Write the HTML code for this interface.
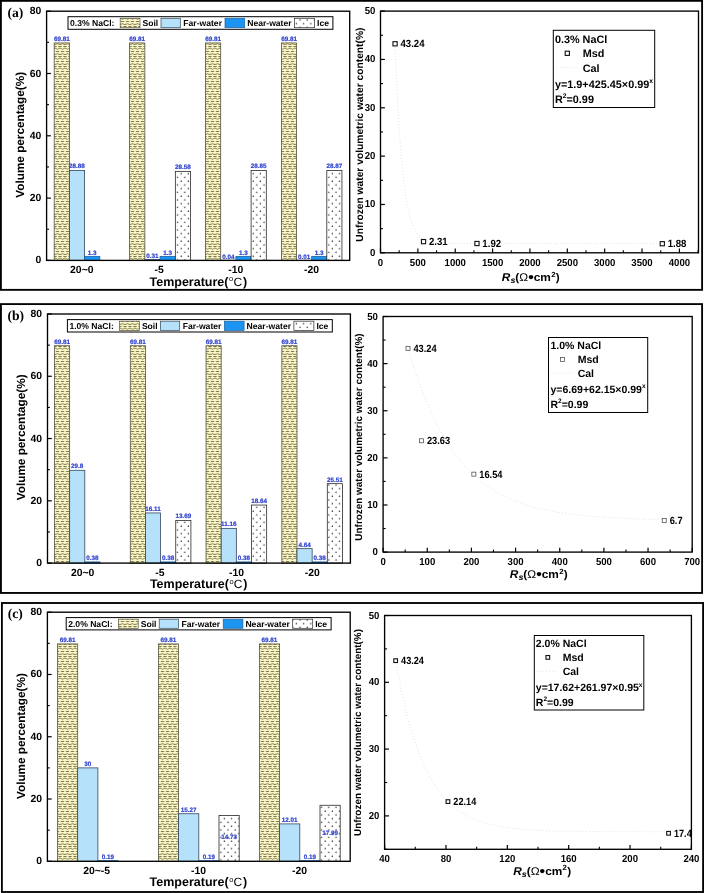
<!DOCTYPE html>
<html><head><meta charset="utf-8"><title>Figure</title>
<style>html,body{margin:0;padding:0;background:#fff}svg{display:block;will-change:transform}</style></head>
<body>
<svg width="704" height="893" viewBox="0 0 704 893" text-rendering="geometricPrecision">
<defs>
<pattern id="soil" width="5" height="10" patternUnits="userSpaceOnUse">
<rect width="5" height="10" fill="#faf6c8"/>
<g fill="none" stroke="#605c2e" stroke-width="0.78">
<path d="M0.8,1.5H4.2"/>
<path d="M-1.25,3.3Q0,5.1 1.25,4.2T3.75,4.2T6.25,4.2"/>
<path d="M-0.9,6.5H1.7M3.3,6.5H6"/>
<path d="M-1.25,9.1Q0,7.3 1.25,8.6T3.75,8.6T6.25,8.6" stroke="#66622f"/>
</g>
</pattern>
<pattern id="ice" width="7.2" height="7.5" patternUnits="userSpaceOnUse">
<rect width="7.2" height="7.5" fill="#fff"/>
<circle cx="1.2" cy="1.2" r="0.72" fill="#111"/>
<circle cx="4.8" cy="4.95" r="0.72" fill="#111"/>
</pattern>
</defs>
<rect width="704" height="893" fill="#fff"/>
<rect x="0.90" y="0.85" width="701.20" height="289.00" fill="none" stroke="#000" stroke-width="1.85" />
<rect x="0.95" y="304.10" width="701.15" height="288.85" fill="none" stroke="#000" stroke-width="1.85" />
<rect x="1.90" y="603.00" width="701.20" height="289.00" fill="none" stroke="#000" stroke-width="1.85" />
<rect x="54.20" y="42.94" width="15.20" height="217.46" fill="url(#soil)" stroke="#55523c" stroke-width="0.8" />
<rect x="69.40" y="170.44" width="15.20" height="89.96" fill="#b6e1fb" stroke="#34465a" stroke-width="0.8" />
<rect x="84.60" y="256.35" width="15.20" height="4.05" fill="#1c94f1" stroke="#1d5f9f" stroke-width="0.8" />
<rect x="129.60" y="42.94" width="15.25" height="217.46" fill="url(#soil)" stroke="#55523c" stroke-width="0.8" />
<rect x="144.85" y="259.43" width="15.25" height="0.97" fill="#b6e1fb" stroke="#34465a" stroke-width="0.8" />
<rect x="160.10" y="256.35" width="15.25" height="4.05" fill="#1c94f1" stroke="#1d5f9f" stroke-width="0.8" />
<rect x="175.35" y="171.37" width="15.25" height="89.03" fill="url(#ice)" stroke="#2a2a2a" stroke-width="0.8" />
<rect x="205.50" y="42.94" width="15.20" height="217.46" fill="url(#soil)" stroke="#55523c" stroke-width="0.8" />
<rect x="220.70" y="260.28" width="15.20" height="0.12" fill="#b6e1fb" stroke="#34465a" stroke-width="0.8" />
<rect x="235.90" y="256.35" width="15.20" height="4.05" fill="#1c94f1" stroke="#1d5f9f" stroke-width="0.8" />
<rect x="251.10" y="170.53" width="15.20" height="89.87" fill="url(#ice)" stroke="#2a2a2a" stroke-width="0.8" />
<rect x="281.45" y="42.94" width="15.12" height="217.46" fill="url(#soil)" stroke="#55523c" stroke-width="0.8" />
<rect x="296.57" y="260.37" width="15.12" height="0.03" fill="#b6e1fb" stroke="#34465a" stroke-width="0.8" />
<rect x="311.69" y="256.35" width="15.12" height="4.05" fill="#1c94f1" stroke="#1d5f9f" stroke-width="0.8" />
<rect x="326.81" y="170.47" width="15.12" height="89.93" fill="url(#ice)" stroke="#2a2a2a" stroke-width="0.8" />
<text x="61.80" y="40.84" font-size="6.3" text-anchor="middle" font-weight="bold" fill="#3346cf" font-family="'Liberation Sans', sans-serif" stroke="#3346cf" stroke-width="0.22">69.81</text>
<text x="77.00" y="168.34" font-size="6.3" text-anchor="middle" font-weight="bold" fill="#3346cf" font-family="'Liberation Sans', sans-serif" stroke="#3346cf" stroke-width="0.22">28.88</text>
<text x="92.20" y="254.85" font-size="6.3" text-anchor="middle" font-weight="bold" fill="#3346cf" font-family="'Liberation Sans', sans-serif" stroke="#3346cf" stroke-width="0.22">1.3</text>
<text x="137.22" y="40.84" font-size="6.3" text-anchor="middle" font-weight="bold" fill="#3346cf" font-family="'Liberation Sans', sans-serif" stroke="#3346cf" stroke-width="0.22">69.81</text>
<text x="152.47" y="257.93" font-size="6.3" text-anchor="middle" font-weight="bold" fill="#3346cf" font-family="'Liberation Sans', sans-serif" stroke="#3346cf" stroke-width="0.22">0.31</text>
<text x="167.72" y="254.85" font-size="6.3" text-anchor="middle" font-weight="bold" fill="#3346cf" font-family="'Liberation Sans', sans-serif" stroke="#3346cf" stroke-width="0.22">1.3</text>
<text x="182.97" y="169.27" font-size="6.3" text-anchor="middle" font-weight="bold" fill="#3346cf" font-family="'Liberation Sans', sans-serif" stroke="#3346cf" stroke-width="0.22">28.58</text>
<text x="213.10" y="40.84" font-size="6.3" text-anchor="middle" font-weight="bold" fill="#3346cf" font-family="'Liberation Sans', sans-serif" stroke="#3346cf" stroke-width="0.22">69.81</text>
<text x="228.30" y="258.78" font-size="6.3" text-anchor="middle" font-weight="bold" fill="#3346cf" font-family="'Liberation Sans', sans-serif" stroke="#3346cf" stroke-width="0.22">0.04</text>
<text x="243.50" y="254.85" font-size="6.3" text-anchor="middle" font-weight="bold" fill="#3346cf" font-family="'Liberation Sans', sans-serif" stroke="#3346cf" stroke-width="0.22">1.3</text>
<text x="258.70" y="168.43" font-size="6.3" text-anchor="middle" font-weight="bold" fill="#3346cf" font-family="'Liberation Sans', sans-serif" stroke="#3346cf" stroke-width="0.22">28.85</text>
<text x="289.01" y="40.84" font-size="6.3" text-anchor="middle" font-weight="bold" fill="#3346cf" font-family="'Liberation Sans', sans-serif" stroke="#3346cf" stroke-width="0.22">69.81</text>
<text x="304.13" y="258.87" font-size="6.3" text-anchor="middle" font-weight="bold" fill="#3346cf" font-family="'Liberation Sans', sans-serif" stroke="#3346cf" stroke-width="0.22">0.01</text>
<text x="319.25" y="254.85" font-size="6.3" text-anchor="middle" font-weight="bold" fill="#3346cf" font-family="'Liberation Sans', sans-serif" stroke="#3346cf" stroke-width="0.22">1.3</text>
<text x="334.37" y="168.37" font-size="6.3" text-anchor="middle" font-weight="bold" fill="#3346cf" font-family="'Liberation Sans', sans-serif" stroke="#3346cf" stroke-width="0.22">28.87</text>
<rect x="46.60" y="11.20" width="303.10" height="249.20" fill="none" stroke="#000" stroke-width="1.35" />
<line x1="46.60" y1="260.40" x2="50.90" y2="260.40" stroke="#000" stroke-width="1.2" />
<text x="41.20" y="263.40" font-size="10.4" text-anchor="end" font-weight="bold" fill="#000" font-family="'Liberation Sans', sans-serif" >0</text>
<line x1="46.60" y1="229.25" x2="49.00" y2="229.25" stroke="#000" stroke-width="1.1" />
<line x1="46.60" y1="198.10" x2="50.90" y2="198.10" stroke="#000" stroke-width="1.2" />
<text x="41.20" y="201.10" font-size="10.4" text-anchor="end" font-weight="bold" fill="#000" font-family="'Liberation Sans', sans-serif" >20</text>
<line x1="46.60" y1="166.95" x2="49.00" y2="166.95" stroke="#000" stroke-width="1.1" />
<line x1="46.60" y1="135.80" x2="50.90" y2="135.80" stroke="#000" stroke-width="1.2" />
<text x="41.20" y="138.80" font-size="10.4" text-anchor="end" font-weight="bold" fill="#000" font-family="'Liberation Sans', sans-serif" >40</text>
<line x1="46.60" y1="104.65" x2="49.00" y2="104.65" stroke="#000" stroke-width="1.1" />
<line x1="46.60" y1="73.50" x2="50.90" y2="73.50" stroke="#000" stroke-width="1.2" />
<text x="41.20" y="76.50" font-size="10.4" text-anchor="end" font-weight="bold" fill="#000" font-family="'Liberation Sans', sans-serif" >60</text>
<line x1="46.60" y1="42.35" x2="49.00" y2="42.35" stroke="#000" stroke-width="1.1" />
<line x1="46.60" y1="11.20" x2="50.90" y2="11.20" stroke="#000" stroke-width="1.2" />
<text x="41.20" y="14.20" font-size="10.4" text-anchor="end" font-weight="bold" fill="#000" font-family="'Liberation Sans', sans-serif" >80</text>
<text x="81.80" y="273.40" font-size="10.4" text-anchor="middle" font-weight="bold" fill="#000" font-family="'Liberation Sans', sans-serif" >20~0</text>
<text x="159.10" y="273.40" font-size="10.4" text-anchor="middle" font-weight="bold" fill="#000" font-family="'Liberation Sans', sans-serif" >-5</text>
<text x="235.70" y="273.40" font-size="10.4" text-anchor="middle" font-weight="bold" fill="#000" font-family="'Liberation Sans', sans-serif" >-10</text>
<text x="311.50" y="273.40" font-size="10.4" text-anchor="middle" font-weight="bold" fill="#000" font-family="'Liberation Sans', sans-serif" >-20</text>
<text x="149.50" y="285.50" font-size="12.5" font-weight="bold" font-family="'Liberation Sans', sans-serif">Temperature(<tspan font-weight="normal" font-size="7.5" dx="0.6" dy="-4.4">o</tspan><tspan font-weight="normal" dy="4.4" dx="0.2" font-size="12">C</tspan><tspan dx="0.8">)</tspan></text>
<text transform="translate(23.80,134.80) rotate(-90)" font-size="11.75" text-anchor="middle" font-weight="bold" font-family="'Liberation Sans', sans-serif">Volume percentage(%)</text>
<text x="7.40" y="17.40" font-size="13.6" text-anchor="start" font-weight="bold" fill="#000" font-family="'Liberation Serif', sans-serif" >(a)</text>
<rect x="68.00" y="16.70" width="264.90" height="12.60" fill="#fff" stroke="#000" stroke-width="1" />
<text x="70.00" y="26.30" font-size="8.6" text-anchor="start" font-weight="bold" fill="#000" font-family="'Liberation Sans', sans-serif" >0.3% NaCl:</text>
<rect x="120.20" y="18.30" width="19.80" height="9.40" fill="url(#soil)" stroke="#55523c" stroke-width="0.7" />
<text x="142.50" y="26.30" font-size="8.6" text-anchor="start" font-weight="bold" fill="#000" font-family="'Liberation Sans', sans-serif" >Soil</text>
<rect x="161.00" y="18.30" width="19.30" height="9.40" fill="#b6e1fb" stroke="#34465a" stroke-width="0.7" />
<text x="183.30" y="26.30" font-size="8.6" text-anchor="start" font-weight="bold" fill="#000" font-family="'Liberation Sans', sans-serif" >Far-water</text>
<rect x="225.00" y="18.30" width="19.70" height="9.40" fill="#1c94f1" stroke="#1d5f9f" stroke-width="0.7" />
<text x="247.20" y="26.30" font-size="8.6" text-anchor="start" font-weight="bold" fill="#000" font-family="'Liberation Sans', sans-serif" >Near-water</text>
<rect x="294.50" y="18.30" width="20.00" height="9.40" fill="url(#ice)" stroke="#2a2a2a" stroke-width="0.7" />
<text x="317.00" y="26.30" font-size="8.6" text-anchor="start" font-weight="bold" fill="#000" font-family="'Liberation Sans', sans-serif" >Ice</text>
<polyline points="395.1,43.8 395.1,44.1 395.1,45.4 395.2,47.8 395.4,51.2 395.5,55.8 395.8,61.5 396.0,68.2 396.4,75.9 396.8,84.3 397.2,93.5 397.7,103.2 398.2,113.2 398.9,123.5 399.5,133.9 400.3,144.1 401.0,154.2 401.9,163.9 402.8,173.1 403.8,181.8 404.8,189.9 405.9,197.3 407.1,204.1 408.4,210.1 409.7,215.5 411.0,220.3 412.5,224.4 414.0,227.9 415.5,230.9 417.2,233.4 418.9,235.5 420.7,237.2 422.5,238.6 424.5,239.8 426.5,240.7 428.5,241.4 430.7,242.0 432.9,242.4 435.2,242.7 437.5,243.0 440.0,243.1 442.5,243.3 445.0,243.4 447.7,243.4 450.4,243.5 453.2,243.5 456.1,243.6 459.1,243.6 462.1,243.6 465.2,243.6 468.4,243.6 471.7,243.6 475.0,243.6 478.4,243.6 481.9,243.6 485.5,243.6 489.2,243.6 492.9,243.6 496.7,243.6 500.6,243.6 504.6,243.6 508.6,243.6 512.8,243.6 517.0,243.6 521.3,243.6 525.7,243.6 530.1,243.6 534.7,243.6 539.3,243.6 544.0,243.6 548.8,243.6 553.7,243.6 558.6,243.6 563.7,243.6 568.8,243.6 574.0,243.6 579.3,243.6 584.7,243.6 590.1,243.6 595.7,243.6 601.3,243.6 607.0,243.6 612.8,243.6 618.7,243.6 624.7,243.6 630.7,243.6 636.9,243.6 643.1,243.6 649.4,243.6 655.8,243.6 662.3,243.6" fill="none" stroke="#e6d8d8" stroke-width="0.9" stroke-dasharray="0.9 2.2"/>
<rect x="380.50" y="11.10" width="318.00" height="241.70" fill="none" stroke="#000" stroke-width="1.35" />
<line x1="380.50" y1="252.80" x2="380.50" y2="248.40" stroke="#000" stroke-width="1.2" />
<text transform="translate(380.50,265.80) scale(0.95,1)" font-size="10.1" text-anchor="middle" font-weight="bold" fill="#000" font-family="'Liberation Sans', sans-serif">0</text>
<line x1="399.18" y1="252.80" x2="399.18" y2="250.30" stroke="#000" stroke-width="1.1" />
<line x1="417.86" y1="252.80" x2="417.86" y2="248.40" stroke="#000" stroke-width="1.2" />
<text transform="translate(417.86,265.80) scale(0.95,1)" font-size="10.1" text-anchor="middle" font-weight="bold" fill="#000" font-family="'Liberation Sans', sans-serif">500</text>
<line x1="436.54" y1="252.80" x2="436.54" y2="250.30" stroke="#000" stroke-width="1.1" />
<line x1="455.23" y1="252.80" x2="455.23" y2="248.40" stroke="#000" stroke-width="1.2" />
<text transform="translate(455.23,265.80) scale(0.95,1)" font-size="10.1" text-anchor="middle" font-weight="bold" fill="#000" font-family="'Liberation Sans', sans-serif">1000</text>
<line x1="473.91" y1="252.80" x2="473.91" y2="250.30" stroke="#000" stroke-width="1.1" />
<line x1="492.59" y1="252.80" x2="492.59" y2="248.40" stroke="#000" stroke-width="1.2" />
<text transform="translate(492.59,265.80) scale(0.95,1)" font-size="10.1" text-anchor="middle" font-weight="bold" fill="#000" font-family="'Liberation Sans', sans-serif">1500</text>
<line x1="511.27" y1="252.80" x2="511.27" y2="250.30" stroke="#000" stroke-width="1.1" />
<line x1="529.95" y1="252.80" x2="529.95" y2="248.40" stroke="#000" stroke-width="1.2" />
<text transform="translate(529.95,265.80) scale(0.95,1)" font-size="10.1" text-anchor="middle" font-weight="bold" fill="#000" font-family="'Liberation Sans', sans-serif">2000</text>
<line x1="548.63" y1="252.80" x2="548.63" y2="250.30" stroke="#000" stroke-width="1.1" />
<line x1="567.31" y1="252.80" x2="567.31" y2="248.40" stroke="#000" stroke-width="1.2" />
<text transform="translate(567.31,265.80) scale(0.95,1)" font-size="10.1" text-anchor="middle" font-weight="bold" fill="#000" font-family="'Liberation Sans', sans-serif">2500</text>
<line x1="585.99" y1="252.80" x2="585.99" y2="250.30" stroke="#000" stroke-width="1.1" />
<line x1="604.68" y1="252.80" x2="604.68" y2="248.40" stroke="#000" stroke-width="1.2" />
<text transform="translate(604.68,265.80) scale(0.95,1)" font-size="10.1" text-anchor="middle" font-weight="bold" fill="#000" font-family="'Liberation Sans', sans-serif">3000</text>
<line x1="623.36" y1="252.80" x2="623.36" y2="250.30" stroke="#000" stroke-width="1.1" />
<line x1="642.04" y1="252.80" x2="642.04" y2="248.40" stroke="#000" stroke-width="1.2" />
<text transform="translate(642.04,265.80) scale(0.95,1)" font-size="10.1" text-anchor="middle" font-weight="bold" fill="#000" font-family="'Liberation Sans', sans-serif">3500</text>
<line x1="660.72" y1="252.80" x2="660.72" y2="250.30" stroke="#000" stroke-width="1.1" />
<line x1="679.40" y1="252.80" x2="679.40" y2="248.40" stroke="#000" stroke-width="1.2" />
<text transform="translate(679.40,265.80) scale(0.95,1)" font-size="10.1" text-anchor="middle" font-weight="bold" fill="#000" font-family="'Liberation Sans', sans-serif">4000</text>
<line x1="698.08" y1="252.80" x2="698.08" y2="250.30" stroke="#000" stroke-width="1.1" />
<line x1="380.50" y1="252.80" x2="384.90" y2="252.80" stroke="#000" stroke-width="1.2" />
<text transform="translate(375.30,255.80) scale(0.95,1)" font-size="10.1" text-anchor="end" font-weight="bold" fill="#000" font-family="'Liberation Sans', sans-serif">0</text>
<line x1="380.50" y1="228.63" x2="383.00" y2="228.63" stroke="#000" stroke-width="1.1" />
<line x1="380.50" y1="204.46" x2="384.90" y2="204.46" stroke="#000" stroke-width="1.2" />
<text transform="translate(375.30,207.46) scale(0.95,1)" font-size="10.1" text-anchor="end" font-weight="bold" fill="#000" font-family="'Liberation Sans', sans-serif">10</text>
<line x1="380.50" y1="180.29" x2="383.00" y2="180.29" stroke="#000" stroke-width="1.1" />
<line x1="380.50" y1="156.12" x2="384.90" y2="156.12" stroke="#000" stroke-width="1.2" />
<text transform="translate(375.30,159.12) scale(0.95,1)" font-size="10.1" text-anchor="end" font-weight="bold" fill="#000" font-family="'Liberation Sans', sans-serif">20</text>
<line x1="380.50" y1="131.95" x2="383.00" y2="131.95" stroke="#000" stroke-width="1.1" />
<line x1="380.50" y1="107.78" x2="384.90" y2="107.78" stroke="#000" stroke-width="1.2" />
<text transform="translate(375.30,110.78) scale(0.95,1)" font-size="10.1" text-anchor="end" font-weight="bold" fill="#000" font-family="'Liberation Sans', sans-serif">30</text>
<line x1="380.50" y1="83.61" x2="383.00" y2="83.61" stroke="#000" stroke-width="1.1" />
<line x1="380.50" y1="59.44" x2="384.90" y2="59.44" stroke="#000" stroke-width="1.2" />
<text transform="translate(375.30,62.44) scale(0.95,1)" font-size="10.1" text-anchor="end" font-weight="bold" fill="#000" font-family="'Liberation Sans', sans-serif">40</text>
<line x1="380.50" y1="35.27" x2="383.00" y2="35.27" stroke="#000" stroke-width="1.1" />
<line x1="380.50" y1="11.10" x2="384.90" y2="11.10" stroke="#000" stroke-width="1.2" />
<text transform="translate(375.30,14.10) scale(0.95,1)" font-size="10.1" text-anchor="end" font-weight="bold" fill="#000" font-family="'Liberation Sans', sans-serif">50</text>
<rect x="392.97" y="41.68" width="4.20" height="4.20" fill="#fff" stroke="#111" stroke-width="1.1" />
<text transform="translate(400.47,47.28) scale(0.925,1)" font-size="10.4" text-anchor="start" font-weight="bold" fill="#000" font-family="'Liberation Sans', sans-serif">43.24</text>
<rect x="421.44" y="239.53" width="4.20" height="4.20" fill="#fff" stroke="#111" stroke-width="1.1" />
<text transform="translate(428.94,245.13) scale(0.925,1)" font-size="10.4" text-anchor="start" font-weight="bold" fill="#000" font-family="'Liberation Sans', sans-serif">2.31</text>
<rect x="474.87" y="241.42" width="4.20" height="4.20" fill="#fff" stroke="#111" stroke-width="1.1" />
<text transform="translate(482.37,247.02) scale(0.925,1)" font-size="10.4" text-anchor="start" font-weight="bold" fill="#000" font-family="'Liberation Sans', sans-serif">1.92</text>
<rect x="660.19" y="241.61" width="4.20" height="4.20" fill="#fff" stroke="#111" stroke-width="1.1" />
<text transform="translate(667.69,247.21) scale(0.925,1)" font-size="10.4" text-anchor="start" font-weight="bold" fill="#000" font-family="'Liberation Sans', sans-serif">1.88</text>
<text transform="translate(501.80,280.70) scale(1.06,1)" font-size="11.2" font-weight="bold" font-family="'Liberation Sans', sans-serif"><tspan font-style="italic">R</tspan><tspan font-style="italic" font-size="8.4" dy="2.4">s</tspan><tspan dy="-2.4">(</tspan><tspan font-weight="normal">Ω</tspan><tspan font-size="15" dy="1.1">•</tspan><tspan dy="-1.1">cm</tspan><tspan font-size="7.4" dy="-4.2" dx="0.3">2</tspan><tspan dy="4.2" dx="0.2">)</tspan></text>
<text transform="translate(362.80,134.60) rotate(-90)" font-size="10.25" text-anchor="middle" font-weight="bold" font-family="'Liberation Sans', sans-serif">Unfrozen water volumetric water content(%)</text>
<rect x="553.30" y="30.30" width="101.40" height="77.20" fill="#fff" stroke="#000" stroke-width="1" />
<text x="554.90" y="42.90" font-size="10.85" text-anchor="start" font-weight="bold" fill="#000" font-family="'Liberation Sans', sans-serif" >0.3% NaCl</text>
<rect x="565.20" y="51.20" width="4.20" height="4.20" fill="#fff" stroke="#111" stroke-width="1.1" />
<text x="582.70" y="57.40" font-size="10.85" text-anchor="start" font-weight="bold" fill="#000" font-family="'Liberation Sans', sans-serif" >Msd</text>
<line x1="557.00" y1="67.70" x2="576.80" y2="67.70" stroke="#e6d8d8" stroke-width="0.9" stroke-dasharray="0.9 2.2"/>
<text x="582.70" y="71.70" font-size="10.85" text-anchor="start" font-weight="bold" fill="#000" font-family="'Liberation Sans', sans-serif" >Cal</text>
<text x="554.90" y="87.60" font-size="10.85" font-weight="bold" font-family="'Liberation Sans', sans-serif">y=1.9+425.45×0.99<tspan font-size="6.73" dy="-4.2">x</tspan></text>
<text x="554.90" y="102.50" font-size="10.85" font-weight="bold" font-family="'Liberation Sans', sans-serif">R<tspan font-size="6.73" dy="-4.2">2</tspan><tspan dy="4.2">=0.99</tspan></text>
<rect x="54.50" y="345.73" width="15.15" height="217.37" fill="url(#soil)" stroke="#55523c" stroke-width="0.8" />
<rect x="69.65" y="470.31" width="15.15" height="92.79" fill="#b6e1fb" stroke="#34465a" stroke-width="0.8" />
<rect x="84.80" y="561.92" width="15.15" height="1.18" fill="#1c94f1" stroke="#1d5f9f" stroke-width="0.8" />
<rect x="130.30" y="345.73" width="15.15" height="217.37" fill="url(#soil)" stroke="#55523c" stroke-width="0.8" />
<rect x="145.45" y="512.94" width="15.15" height="50.16" fill="#b6e1fb" stroke="#34465a" stroke-width="0.8" />
<rect x="160.60" y="561.92" width="15.15" height="1.18" fill="#1c94f1" stroke="#1d5f9f" stroke-width="0.8" />
<rect x="175.75" y="520.47" width="15.15" height="42.63" fill="url(#ice)" stroke="#2a2a2a" stroke-width="0.8" />
<rect x="206.05" y="345.73" width="15.15" height="217.37" fill="url(#soil)" stroke="#55523c" stroke-width="0.8" />
<rect x="221.20" y="528.35" width="15.15" height="34.75" fill="#b6e1fb" stroke="#34465a" stroke-width="0.8" />
<rect x="236.35" y="561.92" width="15.15" height="1.18" fill="#1c94f1" stroke="#1d5f9f" stroke-width="0.8" />
<rect x="251.50" y="505.06" width="15.15" height="58.04" fill="url(#ice)" stroke="#2a2a2a" stroke-width="0.8" />
<rect x="281.85" y="345.73" width="15.15" height="217.37" fill="url(#soil)" stroke="#55523c" stroke-width="0.8" />
<rect x="297.00" y="548.65" width="15.15" height="14.45" fill="#b6e1fb" stroke="#34465a" stroke-width="0.8" />
<rect x="312.15" y="561.92" width="15.15" height="1.18" fill="#1c94f1" stroke="#1d5f9f" stroke-width="0.8" />
<rect x="327.30" y="483.67" width="15.15" height="79.43" fill="url(#ice)" stroke="#2a2a2a" stroke-width="0.8" />
<text x="62.08" y="343.63" font-size="6.3" text-anchor="middle" font-weight="bold" fill="#3346cf" font-family="'Liberation Sans', sans-serif" stroke="#3346cf" stroke-width="0.22">69.81</text>
<text x="77.23" y="468.21" font-size="6.3" text-anchor="middle" font-weight="bold" fill="#3346cf" font-family="'Liberation Sans', sans-serif" stroke="#3346cf" stroke-width="0.22">29.8</text>
<text x="92.38" y="560.42" font-size="6.3" text-anchor="middle" font-weight="bold" fill="#3346cf" font-family="'Liberation Sans', sans-serif" stroke="#3346cf" stroke-width="0.22">0.38</text>
<text x="137.88" y="343.63" font-size="6.3" text-anchor="middle" font-weight="bold" fill="#3346cf" font-family="'Liberation Sans', sans-serif" stroke="#3346cf" stroke-width="0.22">69.81</text>
<text x="153.03" y="510.84" font-size="6.3" text-anchor="middle" font-weight="bold" fill="#3346cf" font-family="'Liberation Sans', sans-serif" stroke="#3346cf" stroke-width="0.22">16.11</text>
<text x="168.18" y="560.42" font-size="6.3" text-anchor="middle" font-weight="bold" fill="#3346cf" font-family="'Liberation Sans', sans-serif" stroke="#3346cf" stroke-width="0.22">0.38</text>
<text x="183.32" y="518.37" font-size="6.3" text-anchor="middle" font-weight="bold" fill="#3346cf" font-family="'Liberation Sans', sans-serif" stroke="#3346cf" stroke-width="0.22">13.69</text>
<text x="213.62" y="343.63" font-size="6.3" text-anchor="middle" font-weight="bold" fill="#3346cf" font-family="'Liberation Sans', sans-serif" stroke="#3346cf" stroke-width="0.22">69.81</text>
<text x="228.78" y="526.25" font-size="6.3" text-anchor="middle" font-weight="bold" fill="#3346cf" font-family="'Liberation Sans', sans-serif" stroke="#3346cf" stroke-width="0.22">11.16</text>
<text x="243.93" y="560.42" font-size="6.3" text-anchor="middle" font-weight="bold" fill="#3346cf" font-family="'Liberation Sans', sans-serif" stroke="#3346cf" stroke-width="0.22">0.38</text>
<text x="259.07" y="502.96" font-size="6.3" text-anchor="middle" font-weight="bold" fill="#3346cf" font-family="'Liberation Sans', sans-serif" stroke="#3346cf" stroke-width="0.22">18.64</text>
<text x="289.43" y="343.63" font-size="6.3" text-anchor="middle" font-weight="bold" fill="#3346cf" font-family="'Liberation Sans', sans-serif" stroke="#3346cf" stroke-width="0.22">69.81</text>
<text x="304.57" y="546.55" font-size="6.3" text-anchor="middle" font-weight="bold" fill="#3346cf" font-family="'Liberation Sans', sans-serif" stroke="#3346cf" stroke-width="0.22">4.64</text>
<text x="319.73" y="560.42" font-size="6.3" text-anchor="middle" font-weight="bold" fill="#3346cf" font-family="'Liberation Sans', sans-serif" stroke="#3346cf" stroke-width="0.22">0.38</text>
<text x="334.88" y="481.57" font-size="6.3" text-anchor="middle" font-weight="bold" fill="#3346cf" font-family="'Liberation Sans', sans-serif" stroke="#3346cf" stroke-width="0.22">25.51</text>
<rect x="47.50" y="314.00" width="302.90" height="249.10" fill="none" stroke="#000" stroke-width="1.35" />
<line x1="47.50" y1="563.10" x2="51.80" y2="563.10" stroke="#000" stroke-width="1.2" />
<text x="42.10" y="566.10" font-size="10.4" text-anchor="end" font-weight="bold" fill="#000" font-family="'Liberation Sans', sans-serif" >0</text>
<line x1="47.50" y1="531.96" x2="49.90" y2="531.96" stroke="#000" stroke-width="1.1" />
<line x1="47.50" y1="500.83" x2="51.80" y2="500.83" stroke="#000" stroke-width="1.2" />
<text x="42.10" y="503.83" font-size="10.4" text-anchor="end" font-weight="bold" fill="#000" font-family="'Liberation Sans', sans-serif" >20</text>
<line x1="47.50" y1="469.69" x2="49.90" y2="469.69" stroke="#000" stroke-width="1.1" />
<line x1="47.50" y1="438.55" x2="51.80" y2="438.55" stroke="#000" stroke-width="1.2" />
<text x="42.10" y="441.55" font-size="10.4" text-anchor="end" font-weight="bold" fill="#000" font-family="'Liberation Sans', sans-serif" >40</text>
<line x1="47.50" y1="407.41" x2="49.90" y2="407.41" stroke="#000" stroke-width="1.1" />
<line x1="47.50" y1="376.27" x2="51.80" y2="376.27" stroke="#000" stroke-width="1.2" />
<text x="42.10" y="379.27" font-size="10.4" text-anchor="end" font-weight="bold" fill="#000" font-family="'Liberation Sans', sans-serif" >60</text>
<line x1="47.50" y1="345.14" x2="49.90" y2="345.14" stroke="#000" stroke-width="1.1" />
<line x1="47.50" y1="314.00" x2="51.80" y2="314.00" stroke="#000" stroke-width="1.2" />
<text x="42.10" y="317.00" font-size="10.4" text-anchor="end" font-weight="bold" fill="#000" font-family="'Liberation Sans', sans-serif" >80</text>
<text x="82.70" y="576.10" font-size="10.4" text-anchor="middle" font-weight="bold" fill="#000" font-family="'Liberation Sans', sans-serif" >20~0</text>
<text x="159.90" y="576.10" font-size="10.4" text-anchor="middle" font-weight="bold" fill="#000" font-family="'Liberation Sans', sans-serif" >-5</text>
<text x="236.50" y="576.10" font-size="10.4" text-anchor="middle" font-weight="bold" fill="#000" font-family="'Liberation Sans', sans-serif" >-10</text>
<text x="312.30" y="576.10" font-size="10.4" text-anchor="middle" font-weight="bold" fill="#000" font-family="'Liberation Sans', sans-serif" >-20</text>
<text x="149.90" y="588.20" font-size="12.5" font-weight="bold" font-family="'Liberation Sans', sans-serif">Temperature(<tspan font-weight="normal" font-size="7.5" dx="0.6" dy="-4.4">o</tspan><tspan font-weight="normal" dy="4.4" dx="0.2" font-size="12">C</tspan><tspan dx="0.8">)</tspan></text>
<text transform="translate(24.50,437.30) rotate(-90)" font-size="11.75" text-anchor="middle" font-weight="bold" font-family="'Liberation Sans', sans-serif">Volume percentage(%)</text>
<text x="7.40" y="319.90" font-size="13.6" text-anchor="start" font-weight="bold" fill="#000" font-family="'Liberation Serif', sans-serif" >(b)</text>
<rect x="67.40" y="319.60" width="264.90" height="12.40" fill="#fff" stroke="#000" stroke-width="1" />
<text x="69.40" y="328.90" font-size="8.6" text-anchor="start" font-weight="bold" fill="#000" font-family="'Liberation Sans', sans-serif" >1.0% NaCl:</text>
<rect x="119.60" y="321.20" width="19.80" height="9.20" fill="url(#soil)" stroke="#55523c" stroke-width="0.7" />
<text x="141.90" y="328.90" font-size="8.6" text-anchor="start" font-weight="bold" fill="#000" font-family="'Liberation Sans', sans-serif" >Soil</text>
<rect x="160.40" y="321.20" width="19.30" height="9.20" fill="#b6e1fb" stroke="#34465a" stroke-width="0.7" />
<text x="182.70" y="328.90" font-size="8.6" text-anchor="start" font-weight="bold" fill="#000" font-family="'Liberation Sans', sans-serif" >Far-water</text>
<rect x="224.40" y="321.20" width="19.70" height="9.20" fill="#1c94f1" stroke="#1d5f9f" stroke-width="0.7" />
<text x="246.60" y="328.90" font-size="8.6" text-anchor="start" font-weight="bold" fill="#000" font-family="'Liberation Sans', sans-serif" >Near-water</text>
<rect x="293.90" y="321.20" width="20.00" height="9.20" fill="url(#ice)" stroke="#2a2a2a" stroke-width="0.7" />
<text x="316.40" y="328.90" font-size="8.6" text-anchor="start" font-weight="bold" fill="#000" font-family="'Liberation Sans', sans-serif" >Ice</text>
<polyline points="408.0,348.5 408.0,348.5 408.1,348.7 408.1,349.0 408.3,349.4 408.4,350.0 408.7,350.8 408.9,351.7 409.3,352.8 409.6,354.0 410.0,355.4 410.5,357.0 411.0,358.7 411.6,360.7 412.3,362.7 413.0,364.9 413.7,367.3 414.6,369.8 415.4,372.5 416.4,375.2 417.4,378.2 418.4,381.2 419.6,384.3 420.7,387.5 422.0,390.8 423.3,394.2 424.7,397.7 426.1,401.2 427.6,404.8 429.2,408.5 430.9,412.1 432.6,415.8 434.3,419.5 436.2,423.2 438.1,426.9 440.1,430.6 442.1,434.2 444.3,437.8 446.4,441.4 448.7,445.0 451.0,448.4 453.4,451.8 455.9,455.2 458.5,458.5 461.1,461.7 463.8,464.8 466.5,467.8 469.4,470.8 472.3,473.6 475.3,476.3 478.3,479.0 481.5,481.5 484.7,484.0 487.9,486.3 491.3,488.6 494.7,490.7 498.2,492.8 501.8,494.7 505.5,496.5 509.2,498.3 513.0,499.9 516.9,501.5 520.9,503.0 524.9,504.4 529.0,505.7 533.2,506.9 537.5,508.0 541.9,509.1 546.3,510.0 550.8,511.0 555.4,511.8 560.1,512.6 564.8,513.3 569.7,514.0 574.6,514.6 579.6,515.2 584.7,515.7 589.8,516.2 595.0,516.6 600.4,517.0 605.8,517.4 611.2,517.7 616.8,518.0 622.4,518.3 628.2,518.6 634.0,518.8 639.9,519.0 645.8,519.2 651.9,519.3 658.0,519.5 664.2,519.6" fill="none" stroke="#e6d8d8" stroke-width="0.9" stroke-dasharray="0.9 2.2"/>
<rect x="383.10" y="316.50" width="309.10" height="235.60" fill="none" stroke="#000" stroke-width="1.35" />
<line x1="383.10" y1="552.10" x2="383.10" y2="547.70" stroke="#000" stroke-width="1.2" />
<text transform="translate(383.10,565.10) scale(0.95,1)" font-size="10.1" text-anchor="middle" font-weight="bold" fill="#000" font-family="'Liberation Sans', sans-serif">0</text>
<line x1="405.18" y1="552.10" x2="405.18" y2="549.60" stroke="#000" stroke-width="1.1" />
<line x1="427.26" y1="552.10" x2="427.26" y2="547.70" stroke="#000" stroke-width="1.2" />
<text transform="translate(427.26,565.10) scale(0.95,1)" font-size="10.1" text-anchor="middle" font-weight="bold" fill="#000" font-family="'Liberation Sans', sans-serif">100</text>
<line x1="449.34" y1="552.10" x2="449.34" y2="549.60" stroke="#000" stroke-width="1.1" />
<line x1="471.41" y1="552.10" x2="471.41" y2="547.70" stroke="#000" stroke-width="1.2" />
<text transform="translate(471.41,565.10) scale(0.95,1)" font-size="10.1" text-anchor="middle" font-weight="bold" fill="#000" font-family="'Liberation Sans', sans-serif">200</text>
<line x1="493.49" y1="552.10" x2="493.49" y2="549.60" stroke="#000" stroke-width="1.1" />
<line x1="515.57" y1="552.10" x2="515.57" y2="547.70" stroke="#000" stroke-width="1.2" />
<text transform="translate(515.57,565.10) scale(0.95,1)" font-size="10.1" text-anchor="middle" font-weight="bold" fill="#000" font-family="'Liberation Sans', sans-serif">300</text>
<line x1="537.65" y1="552.10" x2="537.65" y2="549.60" stroke="#000" stroke-width="1.1" />
<line x1="559.73" y1="552.10" x2="559.73" y2="547.70" stroke="#000" stroke-width="1.2" />
<text transform="translate(559.73,565.10) scale(0.95,1)" font-size="10.1" text-anchor="middle" font-weight="bold" fill="#000" font-family="'Liberation Sans', sans-serif">400</text>
<line x1="581.81" y1="552.10" x2="581.81" y2="549.60" stroke="#000" stroke-width="1.1" />
<line x1="603.89" y1="552.10" x2="603.89" y2="547.70" stroke="#000" stroke-width="1.2" />
<text transform="translate(603.89,565.10) scale(0.95,1)" font-size="10.1" text-anchor="middle" font-weight="bold" fill="#000" font-family="'Liberation Sans', sans-serif">500</text>
<line x1="625.96" y1="552.10" x2="625.96" y2="549.60" stroke="#000" stroke-width="1.1" />
<line x1="648.04" y1="552.10" x2="648.04" y2="547.70" stroke="#000" stroke-width="1.2" />
<text transform="translate(648.04,565.10) scale(0.95,1)" font-size="10.1" text-anchor="middle" font-weight="bold" fill="#000" font-family="'Liberation Sans', sans-serif">600</text>
<line x1="670.12" y1="552.10" x2="670.12" y2="549.60" stroke="#000" stroke-width="1.1" />
<line x1="692.20" y1="552.10" x2="692.20" y2="547.70" stroke="#000" stroke-width="1.2" />
<text transform="translate(692.20,565.10) scale(0.95,1)" font-size="10.1" text-anchor="middle" font-weight="bold" fill="#000" font-family="'Liberation Sans', sans-serif">700</text>
<line x1="383.10" y1="552.10" x2="387.50" y2="552.10" stroke="#000" stroke-width="1.2" />
<text transform="translate(377.90,555.10) scale(0.95,1)" font-size="10.1" text-anchor="end" font-weight="bold" fill="#000" font-family="'Liberation Sans', sans-serif">0</text>
<line x1="383.10" y1="528.54" x2="385.60" y2="528.54" stroke="#000" stroke-width="1.1" />
<line x1="383.10" y1="504.98" x2="387.50" y2="504.98" stroke="#000" stroke-width="1.2" />
<text transform="translate(377.90,507.98) scale(0.95,1)" font-size="10.1" text-anchor="end" font-weight="bold" fill="#000" font-family="'Liberation Sans', sans-serif">10</text>
<line x1="383.10" y1="481.42" x2="385.60" y2="481.42" stroke="#000" stroke-width="1.1" />
<line x1="383.10" y1="457.86" x2="387.50" y2="457.86" stroke="#000" stroke-width="1.2" />
<text transform="translate(377.90,460.86) scale(0.95,1)" font-size="10.1" text-anchor="end" font-weight="bold" fill="#000" font-family="'Liberation Sans', sans-serif">20</text>
<line x1="383.10" y1="434.30" x2="385.60" y2="434.30" stroke="#000" stroke-width="1.1" />
<line x1="383.10" y1="410.74" x2="387.50" y2="410.74" stroke="#000" stroke-width="1.2" />
<text transform="translate(377.90,413.74) scale(0.95,1)" font-size="10.1" text-anchor="end" font-weight="bold" fill="#000" font-family="'Liberation Sans', sans-serif">30</text>
<line x1="383.10" y1="387.18" x2="385.60" y2="387.18" stroke="#000" stroke-width="1.1" />
<line x1="383.10" y1="363.62" x2="387.50" y2="363.62" stroke="#000" stroke-width="1.2" />
<text transform="translate(377.90,366.62) scale(0.95,1)" font-size="10.1" text-anchor="end" font-weight="bold" fill="#000" font-family="'Liberation Sans', sans-serif">40</text>
<line x1="383.10" y1="340.06" x2="385.60" y2="340.06" stroke="#000" stroke-width="1.1" />
<line x1="383.10" y1="316.50" x2="387.50" y2="316.50" stroke="#000" stroke-width="1.2" />
<text transform="translate(377.90,319.50) scale(0.95,1)" font-size="10.1" text-anchor="end" font-weight="bold" fill="#000" font-family="'Liberation Sans', sans-serif">50</text>
<rect x="406.00" y="346.35" width="4.00" height="4.00" fill="#fff" stroke="#555" stroke-width="0.8" />
<text transform="translate(413.40,351.85) scale(0.895,1)" font-size="10.4" text-anchor="start" font-weight="bold" fill="#000" font-family="'Liberation Sans', sans-serif">43.24</text>
<rect x="419.52" y="438.76" width="4.00" height="4.00" fill="#fff" stroke="#555" stroke-width="0.8" />
<text transform="translate(426.92,444.26) scale(0.895,1)" font-size="10.4" text-anchor="start" font-weight="bold" fill="#000" font-family="'Liberation Sans', sans-serif">23.63</text>
<rect x="471.84" y="472.16" width="4.00" height="4.00" fill="#fff" stroke="#555" stroke-width="0.8" />
<text transform="translate(479.24,477.66) scale(0.895,1)" font-size="10.4" text-anchor="start" font-weight="bold" fill="#000" font-family="'Liberation Sans', sans-serif">16.54</text>
<rect x="662.25" y="518.53" width="4.00" height="4.00" fill="#fff" stroke="#555" stroke-width="0.8" />
<text transform="translate(669.65,524.03) scale(0.895,1)" font-size="10.4" text-anchor="start" font-weight="bold" fill="#000" font-family="'Liberation Sans', sans-serif">6.7</text>
<text transform="translate(509.80,577.70) scale(1.06,1)" font-size="11.2" font-weight="bold" font-family="'Liberation Sans', sans-serif"><tspan font-style="italic">R</tspan><tspan font-style="italic" font-size="8.4" dy="2.4">s</tspan><tspan dy="-2.4">(</tspan><tspan font-weight="normal">Ω</tspan><tspan font-size="15" dy="1.1">•</tspan><tspan dy="-1.1">cm</tspan><tspan font-size="7.4" dy="-4.2" dx="0.3">2</tspan><tspan dy="4.2" dx="0.2">)</tspan></text>
<text transform="translate(362.30,437.00) rotate(-90)" font-size="9.94" text-anchor="middle" font-weight="bold" font-family="'Liberation Sans', sans-serif">Unfrozen water volumetric water content(%)</text>
<rect x="548.50" y="337.50" width="99.20" height="75.00" fill="#fff" stroke="#000" stroke-width="1" />
<text x="550.50" y="349.30" font-size="10.5" text-anchor="start" font-weight="bold" fill="#000" font-family="'Liberation Sans', sans-serif" >1.0% NaCl</text>
<rect x="560.40" y="357.40" width="4.00" height="4.00" fill="#fff" stroke="#555" stroke-width="0.8" />
<text x="577.70" y="363.20" font-size="10.5" text-anchor="start" font-weight="bold" fill="#000" font-family="'Liberation Sans', sans-serif" >Msd</text>
<line x1="550.50" y1="373.10" x2="572.70" y2="373.10" stroke="#e6d8d8" stroke-width="0.9" stroke-dasharray="0.9 2.2"/>
<text x="577.70" y="377.10" font-size="10.5" text-anchor="start" font-weight="bold" fill="#000" font-family="'Liberation Sans', sans-serif" >Cal</text>
<text x="550.50" y="392.60" font-size="10.5" font-weight="bold" font-family="'Liberation Sans', sans-serif">y=6.69+62.15×0.99<tspan font-size="6.51" dy="-4.2">x</tspan></text>
<text x="550.50" y="407.50" font-size="10.5" font-weight="bold" font-family="'Liberation Sans', sans-serif">R<tspan font-size="6.51" dy="-4.2">2</tspan><tspan dy="4.2">=0.99</tspan></text>
<rect x="57.50" y="643.93" width="20.20" height="217.37" fill="url(#soil)" stroke="#55523c" stroke-width="0.8" />
<rect x="77.70" y="767.89" width="20.20" height="93.41" fill="#b6e1fb" stroke="#34465a" stroke-width="0.8" />
<rect x="97.90" y="860.71" width="20.20" height="0.59" fill="#1c94f1" stroke="#1d5f9f" stroke-width="0.8" />
<rect x="158.40" y="643.93" width="20.20" height="217.37" fill="url(#soil)" stroke="#55523c" stroke-width="0.8" />
<rect x="178.60" y="813.75" width="20.20" height="47.55" fill="#b6e1fb" stroke="#34465a" stroke-width="0.8" />
<rect x="198.80" y="860.71" width="20.20" height="0.59" fill="#1c94f1" stroke="#1d5f9f" stroke-width="0.8" />
<rect x="219.00" y="815.43" width="20.20" height="45.87" fill="url(#ice)" stroke="#2a2a2a" stroke-width="0.8" />
<rect x="259.40" y="643.93" width="20.20" height="217.37" fill="url(#soil)" stroke="#55523c" stroke-width="0.8" />
<rect x="279.60" y="823.90" width="20.20" height="37.40" fill="#b6e1fb" stroke="#34465a" stroke-width="0.8" />
<rect x="299.80" y="860.71" width="20.20" height="0.59" fill="#1c94f1" stroke="#1d5f9f" stroke-width="0.8" />
<rect x="320.00" y="805.28" width="20.20" height="56.02" fill="url(#ice)" stroke="#2a2a2a" stroke-width="0.8" />
<text x="67.60" y="641.83" font-size="6.3" text-anchor="middle" font-weight="bold" fill="#3346cf" font-family="'Liberation Sans', sans-serif" stroke="#3346cf" stroke-width="0.22">69.81</text>
<text x="87.80" y="765.79" font-size="6.3" text-anchor="middle" font-weight="bold" fill="#3346cf" font-family="'Liberation Sans', sans-serif" stroke="#3346cf" stroke-width="0.22">30</text>
<text x="108.00" y="859.21" font-size="6.3" text-anchor="middle" font-weight="bold" fill="#3346cf" font-family="'Liberation Sans', sans-serif" stroke="#3346cf" stroke-width="0.22">0.19</text>
<text x="168.50" y="641.83" font-size="6.3" text-anchor="middle" font-weight="bold" fill="#3346cf" font-family="'Liberation Sans', sans-serif" stroke="#3346cf" stroke-width="0.22">69.81</text>
<text x="188.70" y="811.65" font-size="6.3" text-anchor="middle" font-weight="bold" fill="#3346cf" font-family="'Liberation Sans', sans-serif" stroke="#3346cf" stroke-width="0.22">15.27</text>
<text x="208.90" y="859.21" font-size="6.3" text-anchor="middle" font-weight="bold" fill="#3346cf" font-family="'Liberation Sans', sans-serif" stroke="#3346cf" stroke-width="0.22">0.19</text>
<text x="229.10" y="839.20" font-size="6.3" text-anchor="middle" font-weight="bold" fill="#3346cf" font-family="'Liberation Sans', sans-serif" stroke="#3346cf" stroke-width="0.22">14.73</text>
<text x="269.50" y="641.83" font-size="6.3" text-anchor="middle" font-weight="bold" fill="#3346cf" font-family="'Liberation Sans', sans-serif" stroke="#3346cf" stroke-width="0.22">69.81</text>
<text x="289.70" y="821.80" font-size="6.3" text-anchor="middle" font-weight="bold" fill="#3346cf" font-family="'Liberation Sans', sans-serif" stroke="#3346cf" stroke-width="0.22">12.01</text>
<text x="309.90" y="859.21" font-size="6.3" text-anchor="middle" font-weight="bold" fill="#3346cf" font-family="'Liberation Sans', sans-serif" stroke="#3346cf" stroke-width="0.22">0.19</text>
<text x="330.10" y="835.00" font-size="6.3" text-anchor="middle" font-weight="bold" fill="#3346cf" font-family="'Liberation Sans', sans-serif" stroke="#3346cf" stroke-width="0.22">17.99</text>
<rect x="47.40" y="612.20" width="302.80" height="249.10" fill="none" stroke="#000" stroke-width="1.35" />
<line x1="47.40" y1="861.30" x2="51.70" y2="861.30" stroke="#000" stroke-width="1.2" />
<text x="42.00" y="864.30" font-size="10.4" text-anchor="end" font-weight="bold" fill="#000" font-family="'Liberation Sans', sans-serif" >0</text>
<line x1="47.40" y1="830.16" x2="49.80" y2="830.16" stroke="#000" stroke-width="1.1" />
<line x1="47.40" y1="799.02" x2="51.70" y2="799.02" stroke="#000" stroke-width="1.2" />
<text x="42.00" y="802.02" font-size="10.4" text-anchor="end" font-weight="bold" fill="#000" font-family="'Liberation Sans', sans-serif" >20</text>
<line x1="47.40" y1="767.89" x2="49.80" y2="767.89" stroke="#000" stroke-width="1.1" />
<line x1="47.40" y1="736.75" x2="51.70" y2="736.75" stroke="#000" stroke-width="1.2" />
<text x="42.00" y="739.75" font-size="10.4" text-anchor="end" font-weight="bold" fill="#000" font-family="'Liberation Sans', sans-serif" >40</text>
<line x1="47.40" y1="705.61" x2="49.80" y2="705.61" stroke="#000" stroke-width="1.1" />
<line x1="47.40" y1="674.48" x2="51.70" y2="674.48" stroke="#000" stroke-width="1.2" />
<text x="42.00" y="677.48" font-size="10.4" text-anchor="end" font-weight="bold" fill="#000" font-family="'Liberation Sans', sans-serif" >60</text>
<line x1="47.40" y1="643.34" x2="49.80" y2="643.34" stroke="#000" stroke-width="1.1" />
<line x1="47.40" y1="612.20" x2="51.70" y2="612.20" stroke="#000" stroke-width="1.2" />
<text x="42.00" y="615.20" font-size="10.4" text-anchor="end" font-weight="bold" fill="#000" font-family="'Liberation Sans', sans-serif" >80</text>
<text x="96.60" y="874.30" font-size="10.4" text-anchor="middle" font-weight="bold" fill="#000" font-family="'Liberation Sans', sans-serif" >20~-5</text>
<text x="198.60" y="874.30" font-size="10.4" text-anchor="middle" font-weight="bold" fill="#000" font-family="'Liberation Sans', sans-serif" >-10</text>
<text x="299.60" y="874.30" font-size="10.4" text-anchor="middle" font-weight="bold" fill="#000" font-family="'Liberation Sans', sans-serif" >-20</text>
<text x="149.60" y="886.40" font-size="12.5" font-weight="bold" font-family="'Liberation Sans', sans-serif">Temperature(<tspan font-weight="normal" font-size="7.5" dx="0.6" dy="-4.4">o</tspan><tspan font-weight="normal" dy="4.4" dx="0.2" font-size="12">C</tspan><tspan dx="0.8">)</tspan></text>
<text transform="translate(24.50,736.10) rotate(-90)" font-size="11.75" text-anchor="middle" font-weight="bold" font-family="'Liberation Sans', sans-serif">Volume percentage(%)</text>
<text x="7.80" y="618.30" font-size="13.6" text-anchor="start" font-weight="bold" fill="#000" font-family="'Liberation Serif', sans-serif" >(c)</text>
<rect x="66.20" y="617.60" width="264.90" height="12.30" fill="#fff" stroke="#000" stroke-width="1" />
<text x="68.20" y="626.90" font-size="8.6" text-anchor="start" font-weight="bold" fill="#000" font-family="'Liberation Sans', sans-serif" >2.0% NaCl:</text>
<rect x="118.40" y="619.20" width="19.80" height="9.10" fill="url(#soil)" stroke="#55523c" stroke-width="0.7" />
<text x="140.70" y="626.90" font-size="8.6" text-anchor="start" font-weight="bold" fill="#000" font-family="'Liberation Sans', sans-serif" >Soil</text>
<rect x="159.20" y="619.20" width="19.30" height="9.10" fill="#b6e1fb" stroke="#34465a" stroke-width="0.7" />
<text x="181.50" y="626.90" font-size="8.6" text-anchor="start" font-weight="bold" fill="#000" font-family="'Liberation Sans', sans-serif" >Far-water</text>
<rect x="223.20" y="619.20" width="19.70" height="9.10" fill="#1c94f1" stroke="#1d5f9f" stroke-width="0.7" />
<text x="245.40" y="626.90" font-size="8.6" text-anchor="start" font-weight="bold" fill="#000" font-family="'Liberation Sans', sans-serif" >Near-water</text>
<rect x="292.70" y="619.20" width="20.00" height="9.10" fill="url(#ice)" stroke="#2a2a2a" stroke-width="0.7" />
<text x="315.20" y="626.90" font-size="8.6" text-anchor="start" font-weight="bold" fill="#000" font-family="'Liberation Sans', sans-serif" >Ice</text>
<polyline points="395.6,660.6 395.7,660.7 395.7,661.0 395.8,661.5 395.9,662.3 396.1,663.3 396.4,664.6 396.6,666.2 397.0,668.0 397.4,670.1 397.8,672.5 398.3,675.2 398.9,678.1 399.5,681.2 400.2,684.6 400.9,688.2 401.8,692.0 402.6,696.0 403.6,700.1 404.6,704.4 405.6,708.8 406.8,713.4 407.9,718.0 409.2,722.6 410.5,727.4 411.9,732.1 413.4,736.8 414.9,741.6 416.6,746.2 418.2,750.9 420.0,755.4 421.8,759.9 423.7,764.3 425.7,768.5 427.7,772.7 429.8,776.7 432.0,780.5 434.3,784.2 436.6,787.8 439.0,791.1 441.5,794.4 444.0,797.4 446.7,800.3 449.4,803.0 452.2,805.5 455.0,807.9 458.0,810.1 461.0,812.2 464.1,814.1 467.3,815.9 470.5,817.5 473.9,819.0 477.3,820.4 480.8,821.6 484.3,822.8 488.0,823.8 491.7,824.7 495.6,825.6 499.4,826.3 503.4,827.0 507.5,827.6 511.6,828.1 515.9,828.6 520.2,829.0 524.5,829.4 529.0,829.7 533.6,830.0 538.2,830.3 542.9,830.5 547.7,830.7 552.6,830.9 557.6,831.0 562.7,831.1 567.8,831.2 573.1,831.3 578.4,831.4 583.8,831.5 589.3,831.5 594.8,831.6 600.5,831.6 606.2,831.6 612.1,831.7 618.0,831.7 624.0,831.7 630.1,831.7 636.3,831.7 642.6,831.8 648.9,831.8 655.4,831.8 661.9,831.8 668.5,831.8" fill="none" stroke="#e6d8d8" stroke-width="0.9" stroke-dasharray="0.9 2.2"/>
<rect x="384.60" y="615.50" width="306.80" height="233.80" fill="none" stroke="#000" stroke-width="1.35" />
<line x1="384.60" y1="849.30" x2="384.60" y2="844.90" stroke="#000" stroke-width="1.2" />
<text transform="translate(384.60,862.30) scale(0.95,1)" font-size="10.1" text-anchor="middle" font-weight="bold" fill="#000" font-family="'Liberation Sans', sans-serif">40</text>
<line x1="415.28" y1="849.30" x2="415.28" y2="846.80" stroke="#000" stroke-width="1.1" />
<line x1="445.96" y1="849.30" x2="445.96" y2="844.90" stroke="#000" stroke-width="1.2" />
<text transform="translate(445.96,862.30) scale(0.95,1)" font-size="10.1" text-anchor="middle" font-weight="bold" fill="#000" font-family="'Liberation Sans', sans-serif">80</text>
<line x1="476.64" y1="849.30" x2="476.64" y2="846.80" stroke="#000" stroke-width="1.1" />
<line x1="507.32" y1="849.30" x2="507.32" y2="844.90" stroke="#000" stroke-width="1.2" />
<text transform="translate(507.32,862.30) scale(0.95,1)" font-size="10.1" text-anchor="middle" font-weight="bold" fill="#000" font-family="'Liberation Sans', sans-serif">120</text>
<line x1="538.00" y1="849.30" x2="538.00" y2="846.80" stroke="#000" stroke-width="1.1" />
<line x1="568.68" y1="849.30" x2="568.68" y2="844.90" stroke="#000" stroke-width="1.2" />
<text transform="translate(568.68,862.30) scale(0.95,1)" font-size="10.1" text-anchor="middle" font-weight="bold" fill="#000" font-family="'Liberation Sans', sans-serif">160</text>
<line x1="599.36" y1="849.30" x2="599.36" y2="846.80" stroke="#000" stroke-width="1.1" />
<line x1="630.04" y1="849.30" x2="630.04" y2="844.90" stroke="#000" stroke-width="1.2" />
<text transform="translate(630.04,862.30) scale(0.95,1)" font-size="10.1" text-anchor="middle" font-weight="bold" fill="#000" font-family="'Liberation Sans', sans-serif">200</text>
<line x1="660.72" y1="849.30" x2="660.72" y2="846.80" stroke="#000" stroke-width="1.1" />
<line x1="691.40" y1="849.30" x2="691.40" y2="844.90" stroke="#000" stroke-width="1.2" />
<text transform="translate(691.40,862.30) scale(0.95,1)" font-size="10.1" text-anchor="middle" font-weight="bold" fill="#000" font-family="'Liberation Sans', sans-serif">240</text>
<line x1="384.60" y1="849.30" x2="387.10" y2="849.30" stroke="#000" stroke-width="1.1" />
<line x1="384.60" y1="815.90" x2="389.00" y2="815.90" stroke="#000" stroke-width="1.2" />
<text transform="translate(379.40,818.90) scale(0.95,1)" font-size="10.1" text-anchor="end" font-weight="bold" fill="#000" font-family="'Liberation Sans', sans-serif">20</text>
<line x1="384.60" y1="782.50" x2="387.10" y2="782.50" stroke="#000" stroke-width="1.1" />
<line x1="384.60" y1="749.10" x2="389.00" y2="749.10" stroke="#000" stroke-width="1.2" />
<text transform="translate(379.40,752.10) scale(0.95,1)" font-size="10.1" text-anchor="end" font-weight="bold" fill="#000" font-family="'Liberation Sans', sans-serif">30</text>
<line x1="384.60" y1="715.70" x2="387.10" y2="715.70" stroke="#000" stroke-width="1.1" />
<line x1="384.60" y1="682.30" x2="389.00" y2="682.30" stroke="#000" stroke-width="1.2" />
<text transform="translate(379.40,685.30) scale(0.95,1)" font-size="10.1" text-anchor="end" font-weight="bold" fill="#000" font-family="'Liberation Sans', sans-serif">40</text>
<line x1="384.60" y1="648.90" x2="387.10" y2="648.90" stroke="#000" stroke-width="1.1" />
<line x1="384.60" y1="615.50" x2="389.00" y2="615.50" stroke="#000" stroke-width="1.2" />
<text transform="translate(379.40,618.50) scale(0.95,1)" font-size="10.1" text-anchor="end" font-weight="bold" fill="#000" font-family="'Liberation Sans', sans-serif">50</text>
<rect x="393.79" y="658.81" width="3.70" height="3.70" fill="#fff" stroke="#111" stroke-width="1.1" />
<text transform="translate(401.04,664.16) scale(0.88,1)" font-size="10.4" text-anchor="start" font-weight="bold" fill="#000" font-family="'Liberation Sans', sans-serif">43.24</text>
<rect x="446.10" y="799.75" width="3.70" height="3.70" fill="#fff" stroke="#111" stroke-width="1.1" />
<text transform="translate(453.35,805.10) scale(0.88,1)" font-size="10.4" text-anchor="start" font-weight="bold" fill="#000" font-family="'Liberation Sans', sans-serif">22.14</text>
<rect x="666.69" y="831.42" width="3.70" height="3.70" fill="#fff" stroke="#111" stroke-width="1.1" />
<text transform="translate(673.94,836.77) scale(0.88,1)" font-size="10.4" text-anchor="start" font-weight="bold" fill="#000" font-family="'Liberation Sans', sans-serif">17.4</text>
<text transform="translate(513.20,874.60) scale(1.06,1)" font-size="11.2" font-weight="bold" font-family="'Liberation Sans', sans-serif"><tspan font-style="italic">R</tspan><tspan font-style="italic" font-size="8.4" dy="2.4">s</tspan><tspan dy="-2.4">(</tspan><tspan font-weight="normal">Ω</tspan><tspan font-size="15" dy="1.1">•</tspan><tspan dy="-1.1">cm</tspan><tspan font-size="7.4" dy="-4.2" dx="0.3">2</tspan><tspan dy="4.2" dx="0.2">)</tspan></text>
<text transform="translate(361.20,732.50) rotate(-90)" font-size="9.92" text-anchor="middle" font-weight="bold" font-family="'Liberation Sans', sans-serif">Unfrozen water volumetric water content(%)</text>
<rect x="534.30" y="635.50" width="109.50" height="74.50" fill="#fff" stroke="#000" stroke-width="1" />
<text x="535.80" y="647.20" font-size="10.5" text-anchor="start" font-weight="bold" fill="#000" font-family="'Liberation Sans', sans-serif" >2.0% NaCl</text>
<rect x="545.95" y="655.55" width="3.70" height="3.70" fill="#fff" stroke="#111" stroke-width="1.1" />
<text x="562.70" y="661.20" font-size="10.5" text-anchor="start" font-weight="bold" fill="#000" font-family="'Liberation Sans', sans-serif" >Msd</text>
<line x1="536.80" y1="671.30" x2="558.10" y2="671.30" stroke="#e6d8d8" stroke-width="0.9" stroke-dasharray="0.9 2.2"/>
<text x="562.70" y="675.10" font-size="10.5" text-anchor="start" font-weight="bold" fill="#000" font-family="'Liberation Sans', sans-serif" >Cal</text>
<text x="535.80" y="691.00" font-size="10.5" font-weight="bold" font-family="'Liberation Sans', sans-serif">y=17.62+261.97×0.95<tspan font-size="6.51" dy="-4.2">x</tspan></text>
<text x="535.80" y="705.50" font-size="10.5" font-weight="bold" font-family="'Liberation Sans', sans-serif">R<tspan font-size="6.51" dy="-4.2">2</tspan><tspan dy="4.2">=0.99</tspan></text>
</svg>
</body></html>
